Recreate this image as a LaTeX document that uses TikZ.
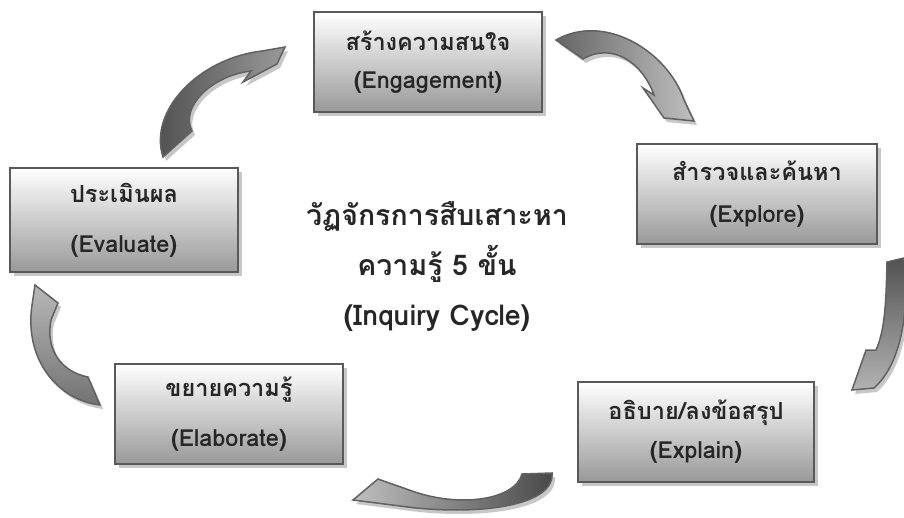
\documentclass[tikz,border=0pt]{standalone}
\usepackage{fontspec}
\newfontfamily\thaifont[Script=Thai]{Loma}
\usetikzlibrary{shadows}

\begin{document}
\begin{tikzpicture}[x=1pt, y=-1pt]
\tikzstyle{block} = [draw=black!65, line width=1.8pt, rectangle, minimum width=228pt, minimum height=100pt, top color=white, bottom color=black!40, drop shadow={shadow xshift=4pt, shadow yshift=-4pt, fill=black!22, opacity=1}, align=center, text=black!85]
\tikzset{lines/.style={font=\thaifont\bfseries\fontsize{23.5}{#1}\selectfont}}
\tikzstyle{curlarrow} = [draw=black!62, line width=1.5pt, drop shadow={shadow xshift=3pt, shadow yshift=-4pt, fill=black!22, opacity=1}]
\tikzstyle{title} = [align=center, text=black!85, font=\thaifont\bfseries\fontsize{28.5}{50}\selectfont]

\useasboundingbox (0,0) rectangle (904,517);

    % the five steps
    \node [block, lines=38] (engage) at (428,62) {สร้างความสนใจ\\(Engagement)};
    \node [block, lines=42, minimum width=240pt] (explore) at (757,194) {สำรวจและค้นหา\\(Explore)};
    \node [block, lines=39, minimum width=236pt] (explain) at (696,432) {อธิบาย/ลงข้อสรุป\\(Explain)};
    \node [block, lines=50] (elaborate) at (229,414) {ขยายความรู้\\(Elaborate)};
    \node [block, lines=50, minimum height=104pt] (evaluate) at (124,220) {ประเมินผล\\(Evaluate)};
    \node [title] (cycle) at (437,267) {วัฏจักรการสืบเสาะหา\\ความรู้ 5 ขั้น\\(Inquiry Cycle)};

    % curved arrows between the steps
    \path [curlarrow, left color=black!60, right color=black!25]
        (556,40) .. controls (605,12) and (668,52) .. (684,100)
        -- (694,121) -- (664,118) -- (643,88) -- (654,95)
        .. controls (642,62) and (612,42) .. (583,59) -- cycle;
    \path [curlarrow, top color=black!68, bottom color=black!30]
        (887,262) -- (904,258)
        .. controls (910,315) and (900,365) .. (874,388)
        -- (852,390) -- (866,350) -- (876,350)
        .. controls (886,328) and (886,295) .. (887,262) -- cycle;
    \path [curlarrow, left color=black!25, right color=black!72]
        (522,474) -- (552,473)
        .. controls (555,508) and (470,516) .. (400,506)
        -- (353,500) -- (378,479) -- (412,491)
        .. controls (460,508) and (515,500) .. (522,474) -- cycle;
    \path [curlarrow, top color=black!28, bottom color=black!55]
        (100,405) .. controls (58,400) and (24,360) .. (32,305)
        -- (35,285) -- (58,303) -- (51,320)
        .. controls (45,350) and (62,372) .. (88,377) -- cycle;
    \path [curlarrow, left color=black!70, right color=black!40]
        (163,157) .. controls (148,110) and (200,58) .. (262,51)
        -- (285,47) -- (277,64) -- (243,82) -- (251,71)
        .. controls (210,76) and (180,108) .. (192,131) -- cycle;

\end{tikzpicture}
\end{document}
